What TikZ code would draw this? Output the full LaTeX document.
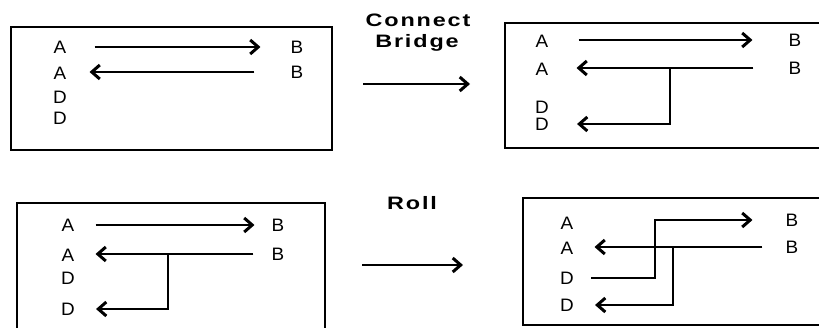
\documentclass[tikz,border=0pt]{standalone}
\usepackage{fontspec}
\setmainfont{Liberation Sans}
\newfontfamily\boldlab[LetterSpace=8]{Liberation Sans Bold}
\usetikzlibrary{arrows.meta}
\begin{document}
\begin{tikzpicture}[x=1pt,y=-1pt,
  frame/.style={draw=black,line width=1.4pt},
  lab/.style={font=\fontsize{18}{18}\selectfont,inner sep=0pt,xscale=1.05,anchor=center},
  title/.style={font=\boldlab\fontsize{18}{18}\selectfont,inner sep=0pt,xscale=1.3},
  conn/.style={line width=1.1pt,-{Straight Barb[length=8pt,width=14pt,line width=3pt]}}]
\useasboundingbox (0,0) rectangle (819,327);
\clip (0,0) rectangle (819,327);
% ---------- Box 1 ----------
\draw[frame] (11,27) rectangle (332,150);
\node[lab] (a11) at (60,47) {A};
\node[lab] (a12) at (60,73) {A};
\node[lab] (d11) at (60,97) {D};
\node[lab] (d12) at (60,118) {D};
\node[lab] (b11) at (297,47) {B};
\node[lab] (b12) at (297,72) {B};
\draw[conn,shorten <=28pt,shorten >=30pt] (a11.east|-b11.west) -- (b11.west);
\draw[conn,shorten <=36pt,shorten >=23pt] (b12.west) -- (a12.east|-b12.west);
% ---------- Connect Bridge ----------
\node[title] (t1) at (418,20) {Connect};
\node[title] (t2) at (417,43) {Bridge};
\coordinate (s1) at (363,84);
\coordinate (e1) at (470,84);
\draw[conn] (s1) -- (e1);
% ---------- Box 2 ----------
\draw[frame] (505,23) rectangle (830,148);
\node[lab] (a21) at (542,41) {A};
\node[lab] (a22) at (542,69) {A};
\node[lab] (d21) at (542,107) {D};
\node[lab] (d22) at (542,124) {D};
\node[lab] (b21) at (795,40) {B};
\node[lab] (b22) at (795,68) {B};
\draw[conn,shorten <=30pt,shorten >=36pt] (a21.east|-b21.west) -- (b21.west);
\coordinate (j2) at (670,69);
\draw[conn,shorten <=35pt,shorten >=28pt] (b22.west) -- (a22.east|-b22.west);
\draw[conn,shorten >=28pt] (j2) |- (d22.east);
% ---------- Box 3 ----------
\draw[frame] (17,203) rectangle (325,335);
\node[lab] (a31) at (68,225) {A};
\node[lab] (a32) at (68,255) {A};
\node[lab] (d31) at (68,278) {D};
\node[lab] (d32) at (68,309) {D};
\node[lab] (b31) at (278,225) {B};
\node[lab] (b32) at (278,254) {B};
\draw[conn,shorten <=21pt,shorten >=17pt] (a31.east|-b31.west) -- (b31.west);
\coordinate (j3) at (168,254);
\draw[conn,shorten <=18pt,shorten >=21pt] (b32.west) -- (a32.east|-b32.west);
\draw[conn,shorten >=21pt] (j3) |- (d32.east);
% ---------- Roll ----------
\node[title] (t3) at (412,203) {Roll};
\coordinate (s2) at (362,265);
\coordinate (e2) at (463,265);
\draw[conn] (s2) -- (e2);
% ---------- Box 4 ----------
\draw[frame] (523,198) rectangle (830,325);
\node[lab] (a41) at (567,223) {A};
\node[lab] (a42) at (567,248) {A};
\node[lab] (d41) at (567,278) {D};
\node[lab] (d42) at (567,305) {D};
\node[lab] (b41) at (792,220) {B};
\node[lab] (b42) at (792,247) {B};
\coordinate (k4) at (655,278);
\draw[conn,shorten >=33pt] (d41.east) ++(17,0) -- (k4) |- (b41.west);
\coordinate (j4) at (673,247);
\draw[conn,shorten <=23pt,shorten >=21pt] (b42.west) -- (a42.east|-b42.west);
\draw[conn,shorten >=21pt] (j4) |- (d42.east);
\end{tikzpicture}
\end{document}
